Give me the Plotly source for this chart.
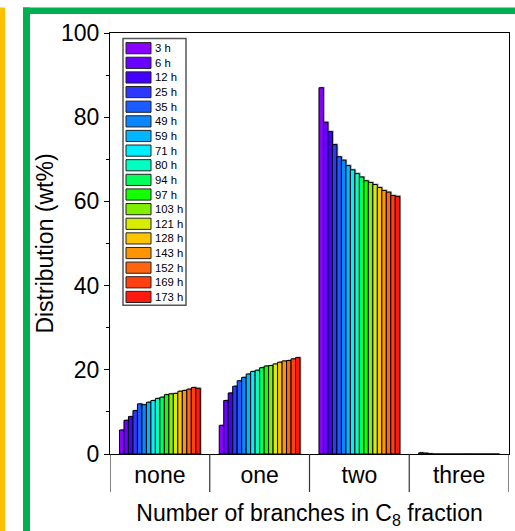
import plotly.graph_objects as go

# Branching categories of the C8 fraction
categories = ["none", "one", "two", "three"]

# Time-on-stream labels (h)
times = ["3 h", "6 h", "12 h", "25 h", "35 h", "49 h", "59 h", "71 h", "80 h",
         "94 h", "97 h", "103 h", "121 h", "128 h", "143 h", "152 h", "169 h", "173 h"]

# Distribution (wt%) per category, one list per branching degree, ordered by time
none_vals = [5.7, 8.0, 8.9, 10.3, 11.9, 11.7, 12.3, 12.7, 13.2, 13.5, 14.1, 14.3,
             14.4, 14.9, 15.1, 15.4, 15.8, 15.6]
one_vals = [6.8, 12.7, 14.5, 16.1, 17.4, 18.2, 19.0, 19.6, 19.9, 20.5, 20.9, 21.0,
            21.4, 21.8, 22.1, 22.2, 22.6, 22.9]
two_vals = [87.0, 78.8, 76.6, 73.5, 70.6, 69.8, 68.5, 67.5, 66.6, 65.8, 64.9, 64.5,
            64.0, 63.3, 62.6, 62.2, 61.4, 61.2]
three_vals = [0.3, 0.2, 0.05, 0.0, 0.0, 0.0, 0.0, 0.0, 0.0, 0.0, 0.0, 0.0,
              0.0, 0.0, 0.0, 0.0, 0.0, 0.0]

colors = ["#8a00ff", "#6a00ff", "#4400ff", "#2c38ff", "#1a5cff", "#0a86ff",
          "#00b6ff", "#00eeff", "#00ffc0", "#00ff5a", "#14ff00", "#80f000",
          "#d8ec00", "#ffc400", "#ff9400", "#ff6410", "#ff4010", "#ff1a10"]

FONT = "Liberation Sans, Arial, sans-serif"
W, H = 515, 531
L, R, T, B = 110, 509, 32.5, 454   # plot area in px

GROUP = 0.81                      # share of a category covered by the bar group
BW = GROUP / len(times)           # single bar width (category units)
SH_DX = 1.3 / (R - L) * 4         # drop-shadow shift, category units (1.3 px)
SH_DY = 1.0 / (B - T) * 100       # drop-shadow lift, wt% units (1 px)


def px(x):
    return (x - L) / (R - L)


def py(y):
    return (B - y) / (B - T)


def band(x0, x1, y0, y1, color):
    """Filled rectangle given in page pixels."""
    return dict(type="rect", xref="paper", yref="paper",
                x0=px(x0), x1=px(x1), y0=py(y0), y1=py(y1),
                line=dict(width=0), fillcolor=color, layer="above")


fig = go.Figure()
series = []
for i, t in enumerate(times):
    series.append([none_vals[i], one_vals[i], two_vals[i], three_vals[i]])

# soft gray drop shadows behind the bars
for i, t in enumerate(times):
    fig.add_trace(go.Bar(
        x=categories, y=[v + SH_DY if v > 0 else 0 for v in series[i]],
        width=BW, offset=-GROUP / 2 + i * BW + SH_DX,
        marker=dict(color="rgba(80,80,80,0.55)", line=dict(width=0)),
        showlegend=False, hoverinfo="skip",
    ))

for i, t in enumerate(times):
    fig.add_trace(go.Bar(
        x=categories, y=series[i], name=t,
        width=BW, offset=-GROUP / 2 + i * BW,
        marker=dict(color=colors[i], line=dict(color="#000000", width=1)),
        showlegend=False,
    ))

shapes = []
annotations = []

# Long separators between categories below the x axis
for k in range(len(categories) + 1):
    shapes.append(dict(type="line", xref="x", yref="paper",
                       x0=k - 0.5, x1=k - 0.5, y0=0, y1=py(492),
                       line=dict(color="#333333", width=1.2)))

# Hand-built legend box
shapes.append(dict(type="rect", xref="paper", yref="paper",
                   x0=px(123), x1=px(186), y0=py(38), y1=py(305),
                   line=dict(color="#555555", width=1.5), fillcolor="white"))
for i, t in enumerate(times):
    cy = 47.7 + i * 14.65
    shapes.append(dict(type="rect", xref="paper", yref="paper",
                       x0=px(126), x1=px(151), y0=py(cy - 5.6), y1=py(cy + 5.6),
                       line=dict(color="#222222", width=1), fillcolor=colors[i]))
    annotations.append(dict(xref="paper", yref="paper", x=px(153), y=py(cy),
                            text=t, showarrow=False, xanchor="left", yanchor="middle",
                            font=dict(family=FONT, size=11.3, color="black")))

# Decorative frame around the figure (kept inside the page)
green = "#00b050"
shapes.append(band(23, 515, 7, 13.5, green))     # top edge
shapes.append(band(23, 30, 7, 531, green))       # left edge
shapes.append(band(0, 5, 7, 531, "#ffc000"))     # yellow strip

fig.update_layout(
    width=W, height=H,
    margin=dict(l=L, r=W - R, t=T, b=H - B, pad=0),
    paper_bgcolor="white", plot_bgcolor="white",
    barmode="overlay",
    font=dict(family=FONT, color="black"),
    showlegend=False,
    shapes=shapes, annotations=annotations,
    xaxis=dict(
        type="category", range=[-0.5, 3.5],
        showline=True, linecolor="black", linewidth=1.2, mirror=True,
        ticks="", showgrid=False,
        tickfont=dict(family=FONT, size=23, color="black"),
        ticklabelstandoff=0,
        title=dict(text="Number of branches in C<sub>8</sub> fraction",
                   font=dict(family=FONT, size=23, color="black"), standoff=18),
    ),
    yaxis=dict(
        range=[0, 100], dtick=20, tick0=0,
        showline=True, linecolor="black", linewidth=1.2, mirror=True,
        ticks="outside", ticklen=5, tickwidth=1.2, tickcolor="black",
        minor=dict(dtick=10, ticks="outside", ticklen=3, tickwidth=1.2, tickcolor="black"),
        showgrid=False, zeroline=False,
        tickfont=dict(family=FONT, size=23, color="black"),
        title=dict(text="Distribution (wt%)",
                   font=dict(family=FONT, size=23, color="black"), standoff=0),
    ),
)

fig.write_html("out.html")
